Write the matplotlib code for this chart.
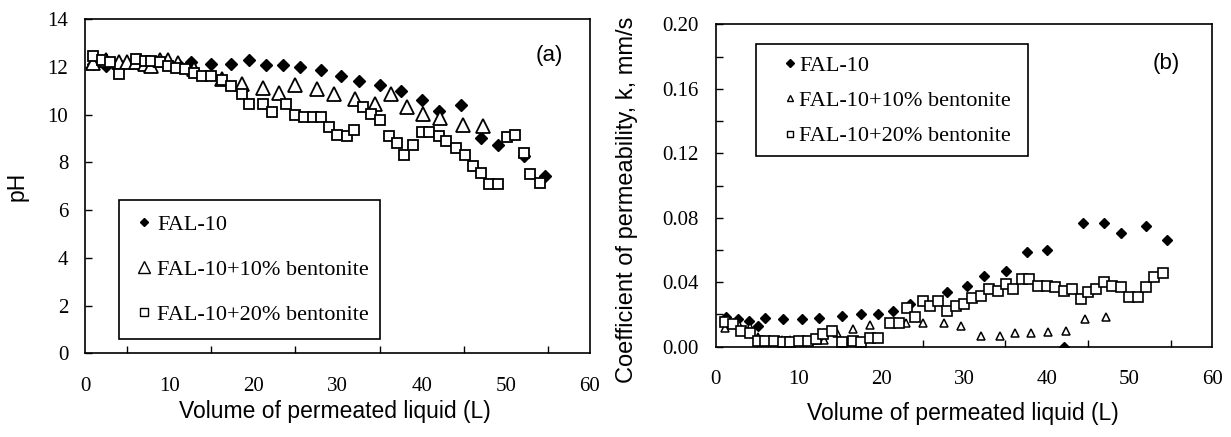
import matplotlib
matplotlib.use('Agg')
import matplotlib.pyplot as plt
from matplotlib.patches import Rectangle
from matplotlib.ticker import MultipleLocator

# ---- data, panel (a): pH ----
a_fal_x = [1.0, 2.5, 4.0, 6.0, 8.0, 10.0, 11.0, 12.6, 15.0, 17.4, 19.5, 21.5, 23.5, 25.6, 28.0,
           30.4, 32.5, 35.1, 37.5, 40.0, 42.0, 44.7, 47.1, 49.1, 52.2, 54.6]
a_fal_y = [12.1, 12.03, 12.1, 12.15, 12.1, 12.1, 12.1, 12.2, 12.13, 12.13, 12.27, 12.06, 12.06, 11.99, 11.85,
           11.6, 11.4, 11.25, 10.97, 10.62, 10.13, 10.39, 9.03, 8.74, 8.25, 7.43]
a_b10_x = [1.0, 2.5, 4.0, 5.0, 6.1, 7.1, 7.9, 8.9, 9.9, 11.0, 12.9, 16.3, 18.6, 21.1, 23.0, 24.9, 27.6,
           29.6, 32.1, 34.4, 36.3, 38.2, 40.1, 42.2, 44.9, 47.3]
a_b10_y = [12.15, 12.3, 12.2, 12.2, 12.2, 12.1, 12.03, 12.27, 12.29, 12.15, 11.92, 11.5, 11.26, 11.12, 10.91,
           11.22, 11.05, 10.84, 10.66, 10.42, 10.87, 10.31, 10.03, 9.86, 9.58, 9.51]
a_b20_x = [1.0, 2.0, 3.0, 4.0, 6.1, 7.1, 7.9, 8.9, 9.9, 10.8, 11.9, 12.9, 13.9, 15.0, 16.3, 17.4, 18.6,
           19.5, 21.1, 22.2, 23.9, 24.9, 26.0, 27.1, 28.0, 29.0, 29.9, 31.1, 32.0, 33.0, 34.0, 35.1,
           36.1, 37.1, 37.9, 39.0, 40.0, 40.9, 42.0, 42.9, 44.1, 45.1, 46.1, 47.1, 48.0, 49.1, 50.1,
           51.1, 52.2, 52.9, 54.0]
a_b20_y = [12.43, 12.27, 12.2, 11.68, 12.34, 12.24, 12.24, 12.2, 12.03, 11.96, 11.89, 11.75, 11.61, 11.61,
           11.43, 11.19, 10.84, 10.46, 10.46, 10.1, 10.46, 9.96, 9.89, 9.89, 9.89, 9.47, 9.16, 9.09,
           9.37, 10.31, 10.03, 9.75, 9.12, 8.81, 8.32, 8.71, 9.26, 9.26, 9.09, 8.88, 8.6, 8.32, 7.85,
           7.57, 7.08, 7.08, 9.05, 9.16, 8.39, 7.52, 7.12]

# ---- data, panel (b): permeability (mm/s) ----
b_fal_x = [1.2, 2.7, 4.0, 5.1, 6.0, 8.1, 10.4, 12.5, 15.2, 17.6, 19.6, 21.4, 23.5, 28.0, 30.4, 32.4,
           35.1, 37.6, 40.0, 42.1, 44.4, 46.9, 49.0, 52.0, 54.5]
b_fal_y = [0.0182, 0.0172, 0.0162, 0.0128, 0.018, 0.017, 0.017, 0.018, 0.0193, 0.0203, 0.0203, 0.0224,
           0.0265, 0.0338, 0.0379, 0.0441, 0.0472, 0.0587, 0.0601, 0.0, 0.0767, 0.0767, 0.0705,
           0.0746, 0.0663]
b_b10_x = [1.1, 2.7, 4.1, 5.1, 6.0, 7.0, 8.0, 9.0, 10.0, 11.0, 12.0, 13.1, 14.6, 16.6, 18.6, 23.0,
           25.0, 27.6, 29.6, 32.0, 34.3, 36.2, 38.1, 40.2, 42.3, 44.6, 47.1]
b_b10_y = [0.0114, 0.015, 0.012, 0.006, 0.004, 0.004, 0.004, 0.004, 0.004, 0.004, 0.004, 0.0041, 0.0083,
           0.011, 0.0135, 0.015, 0.015, 0.0145, 0.0128, 0.0066, 0.0066, 0.0083, 0.0083, 0.0089,
           0.0097, 0.0172, 0.0182]
b_b20_x = [1.1, 2.1, 3.1, 4.1, 5.1, 6.0, 7.0, 8.1, 9.0, 10.1, 11.1, 12.1, 13.0, 14.1, 15.2, 16.6, 17.6,
           18.7, 19.6, 21.0, 22.1, 23.1, 24.1, 25.1, 25.9, 26.9, 28.0, 29.0, 30.0, 31.0, 32.0, 33.0,
           34.1, 35.1, 35.9, 37.0, 37.9, 38.9, 40.0, 41.0, 42.1, 43.0, 44.1, 45.0, 45.9, 46.9, 47.9,
           49.0, 49.9, 51.0, 52.0, 53.0, 54.0]
b_b20_y = [0.0151, 0.0141, 0.0097, 0.0087, 0.0037, 0.0037, 0.0037, 0.0031, 0.0031, 0.0037, 0.0037,
           0.0048, 0.0079, 0.0099, 0.0027, 0.0037, 0.0027, 0.0056, 0.0056, 0.0149, 0.0149, 0.0242,
           0.0182, 0.0286, 0.0255, 0.0286, 0.0222, 0.0255, 0.0265, 0.0305, 0.0317, 0.0359, 0.0348,
           0.039, 0.0359, 0.0421, 0.0421, 0.0379, 0.0379, 0.0369, 0.0348, 0.0359, 0.0294, 0.0338,
           0.0359, 0.04, 0.0379, 0.0369, 0.0307, 0.0307, 0.0369, 0.0431, 0.046]

labels = ['FAL-10', 'FAL-10+10% bentonite', 'FAL-10+20% bentonite']
xlabel = 'Volume of permeated liquid (L)'
a_yticks = [0, 2, 4, 6, 8, 10, 12, 14]
b_yticks = [0.0, 0.04, 0.08, 0.12, 0.16, 0.20]
xticks = [0, 10, 20, 30, 40, 50, 60]

serif = 'Liberation Serif'
sans = 'Liberation Sans'
W, H = 1231, 437

fig = plt.figure(figsize=(W / 100, H / 100), dpi=100)


def style_axes(ax):
    for s in ax.spines.values():
        s.set_linewidth(1.2)
        s.set_color('black')
    ax.tick_params(which='both', direction='in', length=5, width=1,
                   top=False, right=False)
    ax.tick_params(axis='x', which='major', length=0, pad=17)
    ax.tick_params(axis='y', pad=12)
    ax.set_xticks(xticks)
    ax.set_xticklabels([str(v) for v in xticks], fontfamily=serif, fontsize=15)
    ax.xaxis.set_minor_locator(MultipleLocator(5))


def box_legend(ax, box, anchor, spacing, hlen, hpad, sizes):
    # frame drawn by hand, legend itself frameless
    x0, y0, x1, y1 = box
    fig.add_artist(Rectangle((x0 / W, 1 - y1 / H), (x1 - x0) / W, (y1 - y0) / H,
                             transform=fig.transFigure, fill=False, ec='black', lw=1.2))
    leg = ax.legend(loc='upper left', bbox_to_anchor=(anchor[0] / W, 1 - anchor[1] / H),
                    bbox_transform=fig.transFigure, prop={'family': serif, 'size': 16},
                    frameon=False, labelspacing=spacing, handletextpad=hpad,
                    handlelength=hlen, borderpad=0, borderaxespad=0)
    for h, sz in zip(leg.legend_handles, sizes):
        h.set_markersize(sz)
        h.set_markeredgewidth(1.0)
    return leg


# ---------- panel (a) ----------
axa = fig.add_axes([85 / W, 1 - 353.3 / H, 505 / W, 334.3 / H])
axa.plot(a_fal_x, a_fal_y, 'D', color='black', ms=6, ls='none', label=labels[0])
axa.plot(a_b10_x, a_b10_y, '^', mfc='white', mec='black', mew=1.3, ms=10, ls='none', label=labels[1])
axa.plot(a_b20_x, a_b20_y, 's', mfc='white', mec='black', mew=1.3, ms=7.5, ls='none', label=labels[2])
axa.set_xlim(0, 60)
axa.set_ylim(0, 14)
style_axes(axa)
axa.set_yticks(a_yticks)
axa.set_yticklabels([str(v) for v in a_yticks], fontfamily=serif, fontsize=15)
axa.set_xlabel(xlabel, fontfamily=sans, fontsize=16.5)
axa.xaxis.set_label_coords(0.494, -0.14)
axa.set_ylabel('pH', fontfamily=sans, fontsize=16.5)
axa.yaxis.set_label_coords(-0.112, 0.5)
axa.text(0.892, 0.875, '(a)', transform=axa.transAxes, fontfamily=sans, fontsize=16)
box_legend(axa, (119, 200, 380, 339), (135, 214), 1.1, 0.8, 0.2, [4.5, 9, 5.5])

# ---------- panel (b) ----------
axb = fig.add_axes([715.7 / W, 1 - 346.7 / H, 496.6 / W, 322.4 / H])
axb.plot(b_fal_x, b_fal_y, 'D', color='black', ms=5.5, ls='none', label=labels[0])
axb.plot(b_b10_x, b_b10_y, '^', mfc='white', mec='black', mew=1.1, ms=6, ls='none', label=labels[1])
axb.plot(b_b20_x, b_b20_y, 's', mfc='white', mec='black', mew=1.2, ms=6.5, ls='none', label=labels[2])
axb.set_xlim(0, 60)
axb.set_ylim(0, 0.20)
style_axes(axb)
axb.set_yticks(b_yticks)
axb.set_yticklabels(['%.2f' % v for v in b_yticks], fontfamily=serif, fontsize=15)
axb.yaxis.set_minor_locator(MultipleLocator(0.02))
axb.set_xlabel(xlabel, fontfamily=sans, fontsize=16.5)
axb.xaxis.set_label_coords(0.497, -0.17)
axb.set_ylabel('Coefficient of permeability, k, mm/s', fontfamily=sans, fontsize=17)
axb.yaxis.set_label_coords(-0.157, 0.455)
axb.text(0.88, 0.862, '(b)', transform=axb.transAxes, fontfamily=sans, fontsize=16)
box_legend(axb, (756, 44, 1028, 156), (783, 55), 0.67, 0.6, 0.12, [4.5, 5, 5])

fig.savefig('out.png', dpi=100)
